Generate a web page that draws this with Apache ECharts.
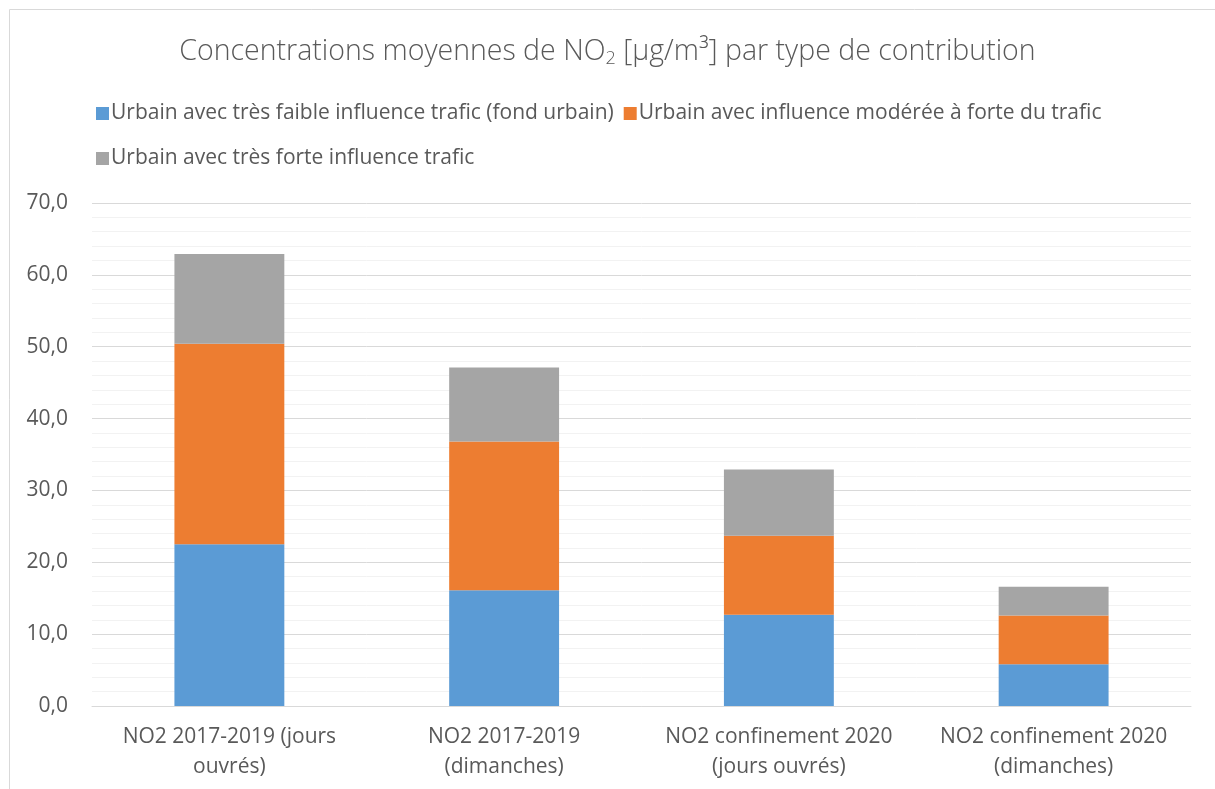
<!DOCTYPE html>
<html>
<head>
<meta charset="utf-8">
<script src="https://cdn.jsdelivr.net/npm/echarts@6/dist/echarts.min.js"></script>
<style>
  html, body { margin: 0; padding: 0; background: #fff; }
  #main { width: 1215px; height: 789px; }
</style>
</head>
<body>
<div id="main"></div>
<script>
var categories = ['NO2 2017-2019 (jours\nouvrés)', 'NO2 2017-2019\n(dimanches)', 'NO2 confinement 2020\n(jours ouvrés)', 'NO2 confinement 2020\n(dimanches)'];
var seriesNames = ['Urbain avec très faible influence trafic (fond urbain)', 'Urbain avec influence modérée à forte du trafic', 'Urbain avec très forte influence trafic'];
// valeurs empilées (contribution de chaque type)
var fondUrbain = [22.5, 16.1, 12.7, 5.8];
var moderee = [27.9, 20.7, 11.0, 6.8];
var tresForte = [12.5, 10.3, 9.2, 4.0];
var colors = ['#5b9bd5', '#ed7d31', '#a5a5a5'];

var chartDom = document.getElementById('main');
var myChart = echarts.init(chartDom);
var font = '"Open Sans", "Noto Sans", sans-serif';
var option;

option = {
    animation: false,
    textStyle: { fontFamily: font },
    graphic: [{
        type: 'rect',
        shape: { x: 9.5, y: 9.5, width: 1220, height: 800 },
        style: { fill: 'none', stroke: '#d9d9d9', lineWidth: 1 }
    }],
    title: {
        text: 'Concentrations moyennes de NO{sub|2} [µg/m³] par type de contribution',
        left: 'center',
        top: 31,
        textStyle: {
            fontFamily: font,
            fontWeight: 300,
            fontSize: 28.5,
            color: '#595959',
            rich: {
                sub: { fontSize: 18, color: '#595959', fontWeight: 300, padding: [14, 0, 0, 0] }
            }
        }
    },
    legend: [{
        data: [seriesNames[0], seriesNames[1]],
        left: 91,
        top: 98,
        itemWidth: 13,
        itemHeight: 13,
        itemGap: 10,
        icon: 'rect',
        textStyle: { fontSize: 21, color: '#595959', padding: [0, 0, 0, -3] }
    }, {
        data: [seriesNames[2]],
        left: 91,
        top: 143,
        itemWidth: 13,
        itemHeight: 13,
        icon: 'rect',
        textStyle: { fontSize: 21, color: '#595959', padding: [0, 0, 0, -3] }
    }],
    grid: { left: 92, right: 24, top: 203, bottom: 83, containLabel: false },
    xAxis: {
        type: 'category',
        data: categories,
        axisLine: { lineStyle: { color: '#d9d9d9', width: 1 } },
        axisTick: { show: false },
        axisLabel: { fontSize: 21, color: '#595959', lineHeight: 30, margin: 16, interval: 0 }
    },
    yAxis: {
        type: 'value',
        min: 0,
        max: 70,
        interval: 10,
        axisLine: { show: false },
        axisTick: { show: false },
        axisLabel: {
            fontSize: 21, color: '#595959', margin: 24,
            formatter: function (v) { return v.toFixed(1).replace('.', ','); }
        },
        splitLine: { lineStyle: { color: '#d9d9d9', width: 1 } },
        minorTick: { show: false, splitNumber: 5 },
        minorSplitLine: { show: true, lineStyle: { color: '#f2f2f2', width: 1 } }
    },
    series: [
        { name: seriesNames[0], type: 'bar', stack: 'total', data: fondUrbain, barWidth: '40%', itemStyle: { color: colors[0] } },
        { name: seriesNames[1], type: 'bar', stack: 'total', data: moderee, itemStyle: { color: colors[1] } },
        { name: seriesNames[2], type: 'bar', stack: 'total', data: tresForte, itemStyle: { color: colors[2] } }
    ]
};

option && myChart.setOption(option);
</script>
</body>
</html>
